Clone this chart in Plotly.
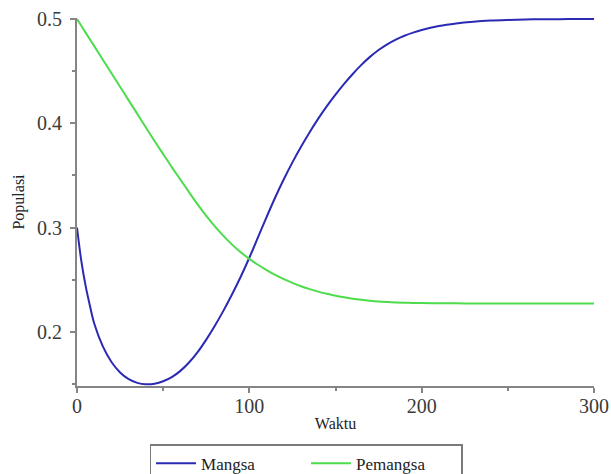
import plotly.graph_objects as go

# time grid (Waktu)
waktu = [0, 2.5, 5, 7.5, 10, 15, 20, 25, 30, 35, 40, 45, 50, 55, 60, 65, 70, 75, 80, 85,
         90, 95, 100, 105, 110, 115, 120, 125, 130, 135, 140, 145, 150, 155, 160, 165,
         170, 175, 180, 185, 190, 195, 200, 210, 220, 230, 240, 250, 260, 270, 280, 290, 300]

# prey population (Mangsa)
mangsa = [0.300, 0.268, 0.244, 0.225, 0.208, 0.186, 0.171, 0.161, 0.1545, 0.151, 0.1497,
          0.1502, 0.1525, 0.1565, 0.1625, 0.1705, 0.1805, 0.1925, 0.2058, 0.2203, 0.2360,
          0.2528, 0.271, 0.2905, 0.3100, 0.3288, 0.3463, 0.3625, 0.3775, 0.3915, 0.4045,
          0.4165, 0.4275, 0.4378, 0.4473, 0.4560, 0.4637, 0.4703, 0.4758, 0.4803, 0.4840,
          0.4870, 0.4895, 0.4933, 0.4958, 0.4975, 0.4986, 0.4992, 0.4996, 0.4998, 0.4999,
          0.500, 0.500]

# predator population (Pemangsa)
pemangsa = [0.500, 0.4935, 0.487, 0.4805, 0.474, 0.461, 0.448, 0.435, 0.422, 0.409, 0.396,
            0.383, 0.3705, 0.358, 0.346, 0.334, 0.3222, 0.3112, 0.3012, 0.2920, 0.2836,
            0.2763, 0.2700, 0.2643, 0.2592, 0.2546, 0.2505, 0.2469, 0.2437, 0.2409, 0.2385,
            0.2364, 0.2346, 0.2331, 0.2318, 0.2307, 0.2298, 0.2291, 0.2286, 0.2282, 0.2279,
            0.2277, 0.2276, 0.2274, 0.2273, 0.2272, 0.2272, 0.2272, 0.2272, 0.2272, 0.2272,
            0.2272, 0.2272]

x_ticks = [0, 100, 200, 300]
y_ticks = [0.2, 0.3, 0.4, 0.5]

FONT = "Liberation Serif"
AXIS_COLOR = "#858585"

fig = go.Figure()
fig.add_trace(go.Scatter(x=waktu, y=mangsa, name="Mangsa", mode="lines",
                         line=dict(color="#2a2ab4", width=2, shape="spline", smoothing=1.0)))
fig.add_trace(go.Scatter(x=waktu, y=pemangsa, name="Pemangsa", mode="lines",
                         line=dict(color="#4cdc4c", width=2, shape="spline", smoothing=1.0)))

fig.update_layout(
    width=611, height=474,
    margin=dict(l=77, r=17, t=18, b=88, autoexpand=False),
    paper_bgcolor="white", plot_bgcolor="white",
    font=dict(family=FONT, color="#333333"),
    showlegend=True,
    legend=dict(orientation="h", x=0.443, xanchor="center", y=-0.158, yanchor="top",
                bordercolor="#7a7a7a", borderwidth=1.5, bgcolor="white",
                font=dict(family=FONT, size=17, color="#222222"),
                entrywidth=100, itemwidth=40, tracegroupgap=0),
)

fig.update_xaxes(
    range=[0, 300], tickvals=x_ticks, ticktext=[str(v) for v in x_ticks],
    showgrid=False, zeroline=False, showline=True, linecolor=AXIS_COLOR, linewidth=2,
    ticks="outside", ticklen=5, tickwidth=1.5, tickcolor=AXIS_COLOR,
    minor=dict(dtick=50, tick0=0, ticks="outside", ticklen=3, tickcolor=AXIS_COLOR, showgrid=False),
    tickfont=dict(family=FONT, size=20, color="#3a3a3a"),
    ticklabelstandoff=-4,
    title=dict(text="Waktu", font=dict(family=FONT, size=16, color="#222222"), standoff=2),
)
fig.update_yaxes(
    range=[0.148, 0.501], tickvals=y_ticks, ticktext=["%.1f" % v for v in y_ticks],
    showgrid=False, zeroline=False, showline=True, linecolor=AXIS_COLOR, linewidth=2,
    ticks="outside", ticklen=5, tickwidth=1.5, tickcolor=AXIS_COLOR,
    minor=dict(dtick=0.05, tick0=0, ticks="outside", ticklen=3, tickcolor=AXIS_COLOR, showgrid=False),
    tickfont=dict(family=FONT, size=20, color="#3a3a3a"),
    ticklabelstandoff=4,
    title=dict(text="Populasi", font=dict(family=FONT, size=16, color="#222222"), standoff=8),
)

fig.write_html("out.html")
